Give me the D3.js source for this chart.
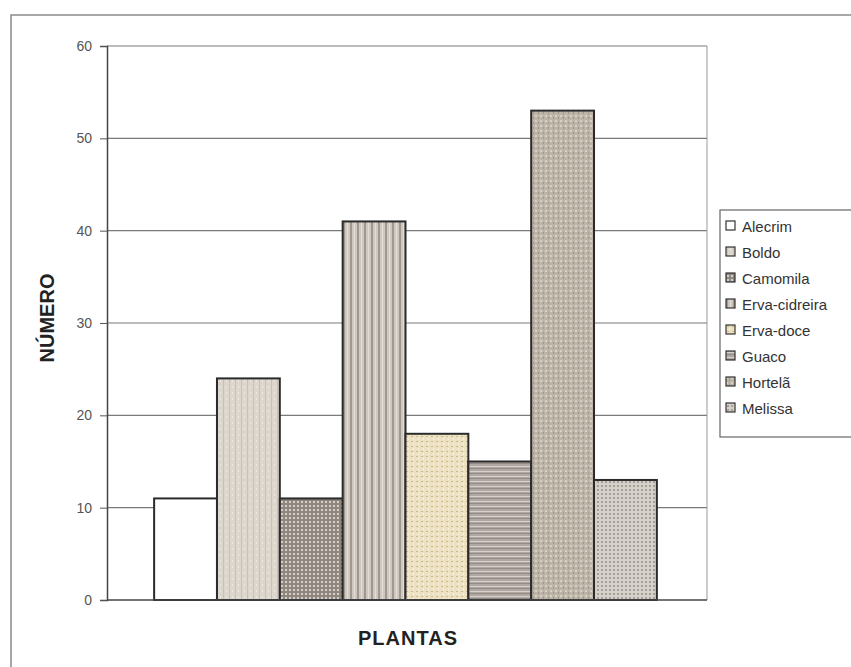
<!DOCTYPE html>
<html>
<head>
<meta charset="utf-8">
<script src="https://cdn.jsdelivr.net/npm/d3@7"></script>
<style>
  body { margin: 0; background: #fff; }
  svg { display: block; font-family: "Liberation Sans", Arial, sans-serif; }
</style>
</head>
<body>
<svg id="chart" width="851" height="667"></svg>
<script>
const plants = ["Alecrim", "Boldo", "Camomila", "Erva-cidreira", "Erva-doce", "Guaco", "Hortelã", "Melissa"];
const counts = [11, 24, 11, 41, 18, 15, 53, 13];
const yTicks = [0, 10, 20, 30, 40, 50, 60];

const svg = d3.select("#chart");
const plotLeft = 107, plotRight = 707, plotTop = 46, plotBottom = 600;

// textures for each bar (scanned print look)
const defs = svg.append("defs");
function pattern(id, w, h, bg, draw) {
    const p = defs.append("pattern").attr("id", id)
        .attr("patternUnits", "userSpaceOnUse").attr("width", w).attr("height", h);
    p.append("rect").attr("width", w).attr("height", h).attr("fill", bg);
    draw(p);
}
pattern("p0", 4, 4, "#ffffff", p => {});
pattern("p1", 6, 6, "#ddd6cc", p => {
    p.append("rect").attr("x", 1).attr("width", 1).attr("height", 6).attr("fill", "#cbc2b6");
    p.append("rect").attr("x", 4).attr("y", 2).attr("width", 1).attr("height", 2).attr("fill", "#ece7e0");
});
pattern("p2", 4, 4, "#8f8680", p => {
    p.append("rect").attr("x", 1).attr("y", 1).attr("width", 2).attr("height", 2).attr("fill", "#d6d0ca");
});
pattern("p3", 7, 4, "#cfc8c0", p => {
    p.append("rect").attr("x", 0).attr("width", 2).attr("height", 4).attr("fill", "#a0978e");
    p.append("rect").attr("x", 4).attr("width", 1).attr("height", 4).attr("fill", "#e2ddd6");
});
pattern("p4", 5, 5, "#ece2c3", p => {
    p.append("rect").attr("x", 1).attr("y", 1).attr("width", 2).attr("height", 1).attr("fill", "#cdb98a");
    p.append("rect").attr("x", 3).attr("y", 3).attr("width", 1).attr("height", 2).attr("fill", "#f7f1de");
});
pattern("p5", 4, 5, "#b1a8a3", p => {
    p.append("rect").attr("y", 1).attr("width", 4).attr("height", 1).attr("fill", "#d6d0cb");
    p.append("rect").attr("y", 3).attr("width", 4).attr("height", 1).attr("fill", "#958b86");
});
pattern("p6", 5, 5, "#bdb4a8", p => {
    p.append("rect").attr("x", 0).attr("y", 0).attr("width", 2).attr("height", 2).attr("fill", "#d7d0c6");
    p.append("rect").attr("x", 3).attr("y", 2).attr("width", 1).attr("height", 2).attr("fill", "#9f968b");
});
pattern("p7", 4, 4, "#d6d1cb", p => {
    p.append("rect").attr("x", 1).attr("y", 1).attr("width", 2).attr("height", 2).attr("fill", "#a69f98");
});

// outer frame
svg.append("rect").attr("x", 11).attr("y", 15).attr("width", 860).attr("height", 700)
    .attr("fill", "none").attr("stroke", "#8a8a8a").attr("stroke-width", 1.5);

const y = d3.scaleLinear().domain([0, 60]).range([plotBottom, plotTop]);
// Excel-style single category with gap width 150%
const x = d3.scaleBand().domain(plants).range([plotLeft, plotRight - 3]).paddingInner(0).paddingOuter(0.75);

// gridlines
svg.append("g").selectAll("line").data(yTicks.filter(d => d > 0)).join("line")
    .attr("x1", plotLeft).attr("x2", plotRight)
    .attr("y1", d => y(d)).attr("y2", d => y(d))
    .attr("stroke", "#7a7a7a").attr("stroke-width", 1.2);

// plot area right edge
svg.append("line").attr("x1", plotRight).attr("x2", plotRight).attr("y1", plotTop).attr("y2", plotBottom)
    .attr("stroke", "#9a9a9a").attr("stroke-width", 1);

// bars
svg.append("g").selectAll("rect").data(plants).join("rect")
    .attr("x", d => x(d))
    .attr("y", (d, i) => y(counts[i]))
    .attr("width", x.bandwidth())
    .attr("height", (d, i) => plotBottom - y(counts[i]))
    .attr("fill", (d, i) => `url(#p${i})`)
    .attr("stroke", "#2b2b2b").attr("stroke-width", 2);

// y axis
const yAxis = svg.append("g").attr("transform", `translate(${plotLeft},0)`)
    .call(d3.axisLeft(y).tickValues(yTicks).tickSize(7).tickPadding(8));
yAxis.select(".domain").attr("stroke", "#444").attr("stroke-width", 1.5);
yAxis.selectAll(".tick line").attr("stroke", "#555");
yAxis.selectAll("text").attr("font-size", 14).attr("fill", "#555")
    .attr("font-family", "'Liberation Sans', Arial, sans-serif");

// x axis baseline
svg.append("line").attr("x1", plotLeft).attr("x2", plotRight).attr("y1", plotBottom).attr("y2", plotBottom)
    .attr("stroke", "#444").attr("stroke-width", 1.5);

// axis titles
svg.append("text").attr("x", 408).attr("y", 645).attr("text-anchor", "middle")
    .attr("font-size", 20).attr("font-weight", "bold").attr("letter-spacing", 1)
    .attr("fill", "#222").text("PLANTAS");
svg.append("text").attr("transform", "translate(54,318) rotate(-90)").attr("text-anchor", "middle")
    .attr("font-size", 20).attr("font-weight", "bold").attr("fill", "#222").text("NÚMERO");

// legend
const legend = svg.append("g").attr("transform", "translate(720,210)");
legend.append("rect").attr("width", 150).attr("height", 227)
    .attr("fill", "#fff").attr("stroke", "#666").attr("stroke-width", 1.2);
const item = legend.selectAll("g.item").data(plants).join("g").attr("class", "item")
    .attr("transform", (d, i) => `translate(6,${16 + i * 26})`);
item.append("rect").attr("x", 0).attr("y", -5).attr("width", 9).attr("height", 9)
    .attr("fill", (d, i) => `url(#p${i})`).attr("stroke", "#333").attr("stroke-width", 1.2);
item.append("text").attr("x", 16).attr("y", 5.5).attr("font-size", 15).attr("fill", "#333")
    .text(d => d);
</script>
</body>
</html>
